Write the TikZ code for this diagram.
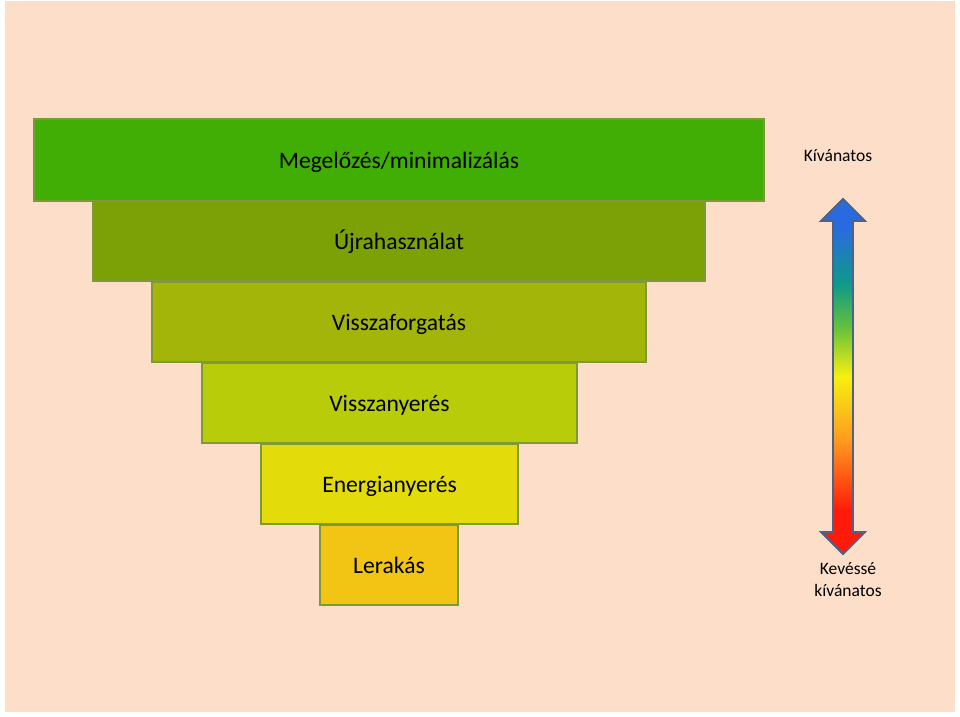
\documentclass[tikz,border=0pt]{standalone}
\usepackage{fontspec}
\setmainfont{Carlito}
\definecolor{bg}{HTML}{FDDEC8}
\definecolor{cA}{HTML}{40AE04}
\definecolor{cB}{HTML}{7CA107}
\definecolor{cC}{HTML}{A3B509}
\definecolor{cD}{HTML}{B9CC0A}
\definecolor{cE}{HTML}{E3DC0A}
\definecolor{cF}{HTML}{F2C413}
\definecolor{edge}{HTML}{7E9A38}
\definecolor{arrowedge}{HTML}{4D6285}
\definecolor{cred}{HTML}{FF1A0A}
\definecolor{corange}{HTML}{FF9A20}
\definecolor{cyellow}{HTML}{F6F010}
\definecolor{cgreen}{HTML}{64C03C}
\definecolor{cteal}{HTML}{0E9A88}
\definecolor{cblue}{HTML}{2A6AE0}
\pgfdeclareverticalshading{rainbowarrow}{100bp}{color(0bp)=(cred); color(25bp)=(cred); color(31bp)=(cred); color(41bp)=(corange); color(50bp)=(cyellow); color(57bp)=(cgreen); color(63bp)=(cteal); color(71bp)=(cblue); color(75bp)=(cblue); color(100bp)=(cblue)}
\begin{document}
\begin{tikzpicture}[x=1pt,y=-1pt,
  lvl/.style={draw=edge, line width=1.2pt, inner sep=0pt, text=black,
    text height=21pt, text depth=5pt,
    font=\fontsize{23.6}{28}\selectfont},
  side/.style={inner sep=0pt, text=black, align=center,
    font=\fontsize{17.5}{22}\selectfont}]
\useasboundingbox (0,0) rectangle (960,716);
\fill[white] (0,0) rectangle (960,716);
\fill[bg] (5,1) rectangle (955,712);
\node[lvl, fill=cA, minimum width=730pt, minimum height=82pt] (b1) at (399,160) {Megelőzés/minimalizálás};
\node[lvl, fill=cB, minimum width=612pt, minimum height=80pt] (b2) at (399,241) {Újrahasználat};
\node[lvl, fill=cC, minimum width=494pt, minimum height=80pt] (b3) at (399,322) {Visszaforgatás};
\node[lvl, fill=cD, minimum width=375pt, minimum height=80pt] (b4) at (389.5,403) {Visszanyerés};
\node[lvl, fill=cE, minimum width=257pt, minimum height=80pt] (b5) at (389.5,484) {Energianyerés};
\node[lvl, fill=cF, minimum width=138pt, minimum height=80pt] (b6) at (389,565) {Lerakás};
\shadedraw[shading=rainbowarrow, draw=arrowedge, line width=1.8pt, line join=miter]
  (843,199) -- (865,221) -- (853,221) -- (853,532) -- (865,532) -- (843,554)
  -- (821,532) -- (833,532) -- (833,221) -- (821,221) -- cycle;
\node[side] (top) at (838,155.5) {Kívánatos};
\node[side] (bot) at (848,580) {Kevéssé\\kívánatos};
\end{tikzpicture}
\end{document}
